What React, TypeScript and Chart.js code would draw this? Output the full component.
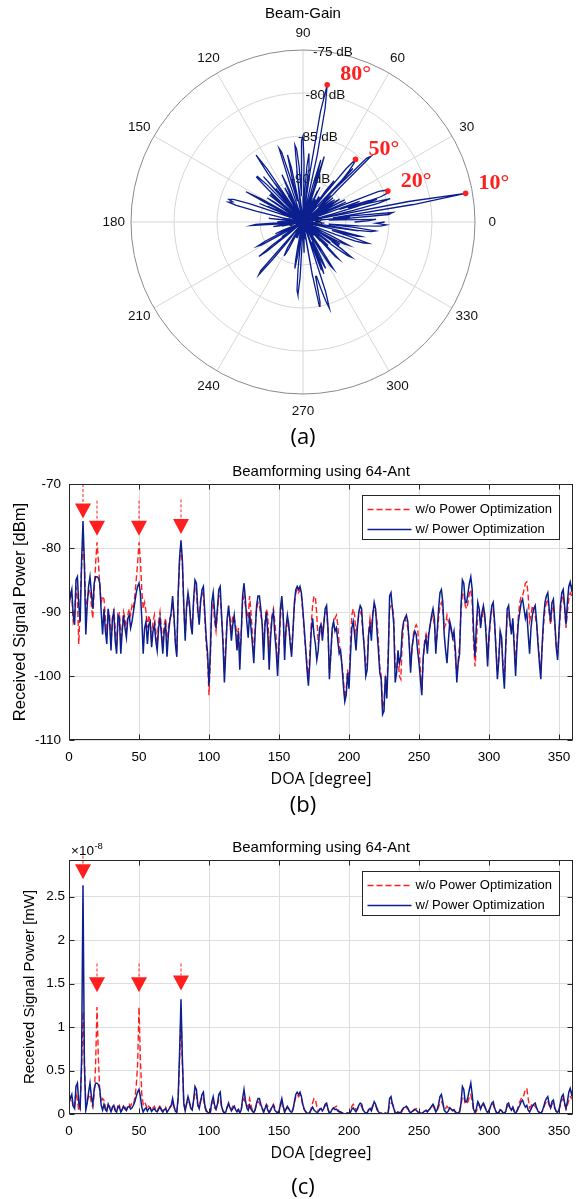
import React, { useEffect, useRef } from 'react';
import { Chart, registerables } from 'chart.js';

Chart.register(...registerables);

// ---------------- data ----------------
const DOA_DEG = Array.from({ length: 361 }, (_, i) => i);

// w/ Power Optimization (dBm), 1-degree steps 0..360
const BLUE_DBM = [
  -89.0, -87.5, -86.5, -90.5, -92.0, -85.0, -84.5, -89.0, -91.5, -82.0,
  -75.8, -82.5, -93.5, -89.0, -86.0, -84.5, -87.0, -89.5, -85.5, -84.5,
  -84.5, -84.7, -85.5, -90.0, -93.5, -89.5, -93.0, -95.0, -89.5, -91.5,
  -96.0, -91.0, -90.0, -94.5, -96.5, -90.5, -91.0, -96.5, -93.0, -90.5,
  -92.5, -94.0, -91.0, -90.5, -92.5, -91.5, -90.0, -88.5, -87.0, -86.0,
  -85.5, -87.0, -91.0, -96.5, -92.5, -91.5, -95.0, -92.0, -91.5, -95.5,
  -93.0, -92.0, -94.5, -96.0, -92.5, -91.0, -93.5, -96.5, -93.0, -92.0,
  -97.0, -93.5, -91.5, -90.0, -87.5, -90.5, -95.0, -97.0, -87.0, -81.5,
  -78.8, -82.0, -89.0, -94.5, -89.0, -87.0, -88.5, -92.0, -93.5, -88.0,
  -85.0, -85.5, -89.5, -92.0, -88.5, -86.5, -86.0, -90.0, -94.0, -96.5,
  -101.5, -96.0, -88.5, -87.0, -90.0, -92.5, -89.5, -86.5, -86.0, -90.5,
  -95.0, -101.0, -96.0, -91.0, -89.0, -91.5, -94.5, -92.0, -90.5, -93.0,
  -96.0, -93.0, -99.0, -93.5, -87.5, -85.5, -88.0, -91.5, -94.0, -90.0,
  -92.5, -95.0, -98.0, -93.0, -89.0, -87.5, -87.5, -89.5, -92.0, -97.5,
  -92.0, -90.0, -93.5, -99.0, -94.0, -91.0, -90.0, -93.5, -96.0, -100.0,
  -95.0, -89.5, -87.5, -90.5, -97.5, -92.5, -90.5, -92.0, -95.0, -97.0,
  -93.0, -88.5, -86.5, -86.0, -86.5, -86.0, -87.0, -89.5, -92.5, -95.5,
  -99.0, -101.5, -98.0, -93.0, -91.0, -93.5, -95.0, -97.5, -96.0, -92.5,
  -92.0, -94.5, -92.0, -89.5, -89.0, -92.5, -100.5, -96.5, -92.5, -91.5,
  -93.0, -92.5, -94.5, -96.5, -96.0, -98.5, -101.5, -104.0, -103.0, -99.5,
  -102.0, -97.0, -92.5, -91.5, -93.5, -96.0, -92.5, -90.0, -89.0, -89.5,
  -93.0, -96.0, -100.0, -99.0, -93.5, -92.0, -94.5, -90.5, -88.5, -89.5,
  -93.0, -96.0, -99.5, -100.5, -106.0, -105.5, -100.0, -103.5, -97.5, -87.5,
  -87.0, -89.5, -92.0, -101.0, -99.5, -96.0, -98.0, -97.0, -93.0, -91.5,
  -91.0, -90.5, -91.5, -95.0, -99.5, -95.5, -94.0, -93.0, -93.5, -96.0,
  -98.0, -100.5, -103.0, -97.0, -95.0, -94.0, -96.5, -93.5, -92.0, -90.5,
  -89.5, -91.0, -96.5, -93.0, -89.5, -87.0, -86.5, -88.5, -93.5, -96.0,
  -98.0, -94.5, -91.5, -92.5, -94.0, -93.0, -96.0, -101.0, -98.0, -96.5,
  -89.0, -85.0, -85.5, -88.5, -88.5, -87.0, -85.5, -84.5, -86.5, -93.0,
  -97.0, -92.0, -88.5, -89.5, -92.5, -90.0, -89.0, -90.5, -94.0, -98.5,
  -93.5, -91.0, -89.0, -88.5, -91.5, -96.0, -100.5, -97.5, -93.0, -94.0,
  -99.0, -102.0, -95.0, -89.5, -89.0, -91.5, -93.5, -91.0, -95.5, -100.0,
  -95.0, -91.5, -90.0, -88.5, -88.0, -89.5, -91.0, -90.0, -93.5, -96.5,
  -92.5, -90.5, -89.5, -89.0, -91.5, -95.0, -98.0, -100.5, -95.0, -91.0,
  -88.5, -87.5, -87.0, -89.5, -91.5, -88.5, -88.0, -91.5, -95.5, -97.5,
  -93.0, -89.0, -87.0, -86.5, -89.0, -92.0, -88.5, -86.0, -85.3, -86.5,
  -85.5,
];

// w/o Power Optimization (dBm), 1-degree steps 0..360
const RED_DBM = [
  -88.5, -87.0, -87.5, -91.5, -90.5, -86.0, -88.0, -95.0, -88.5, -83.0,
  -79.3, -82.0, -90.5, -88.0, -87.0, -86.5, -89.0, -91.0, -86.5, -82.5,
  -79.1, -82.0, -86.0, -88.5, -87.5, -88.0, -91.0, -93.5, -90.0, -90.5,
  -94.5, -92.0, -89.5, -92.5, -95.5, -91.5, -90.0, -94.5, -92.5, -90.0,
  -91.0, -93.0, -90.5, -89.5, -90.5, -89.0, -89.5, -87.5, -85.0, -82.5,
  -79.1, -82.0, -86.5, -89.5, -88.5, -90.0, -92.5, -90.5, -91.5, -94.5,
  -91.5, -90.5, -93.0, -95.0, -91.5, -90.0, -92.5, -95.0, -92.0, -91.0,
  -95.5, -92.5, -91.0, -90.5, -88.5, -91.0, -94.5, -96.5, -87.5, -82.0,
  -79.4, -82.5, -89.5, -93.5, -89.5, -88.0, -89.0, -91.0, -92.5, -88.5,
  -86.0, -86.5, -90.5, -91.0, -88.0, -87.0, -87.5, -91.0, -95.0, -97.5,
  -103.0, -97.0, -89.0, -88.5, -91.5, -93.0, -90.0, -87.5, -87.5, -91.0,
  -94.0, -99.5, -95.0, -91.0, -90.0, -91.0, -92.5, -90.5, -91.0, -92.0,
  -94.0, -92.5, -97.0, -93.5, -88.5, -87.5, -89.0, -90.0, -91.0, -87.5,
  -90.0, -93.5, -96.5, -92.5, -89.5, -88.5, -89.0, -90.5, -91.5, -95.5,
  -91.5, -89.5, -90.5, -96.0, -93.0, -90.5, -89.5, -91.5, -94.0, -98.5,
  -96.0, -91.0, -88.5, -90.5, -95.5, -93.0, -91.5, -92.5, -94.5, -96.0,
  -92.5, -89.0, -87.0, -86.5, -87.0, -86.5, -87.5, -90.0, -93.0, -96.0,
  -98.0, -100.5, -96.5, -92.0, -89.0, -87.5, -87.7, -90.5, -95.0, -93.5,
  -92.0, -93.0, -91.5, -90.0, -90.0, -93.0, -99.5, -97.0, -93.0, -91.5,
  -91.0, -90.5, -92.0, -95.0, -96.5, -98.0, -100.5, -103.5, -102.0, -99.0,
  -101.0, -95.5, -90.5, -89.5, -90.5, -93.5, -92.0, -90.5, -90.0, -90.5,
  -93.5, -95.5, -98.5, -98.0, -93.0, -91.0, -92.5, -90.0, -89.5, -90.0,
  -91.5, -94.5, -98.5, -100.0, -105.0, -104.0, -100.5, -102.0, -96.5, -89.5,
  -89.0, -89.0, -91.0, -98.5, -99.0, -96.5, -100.0, -100.5, -95.0, -92.0,
  -91.0, -91.5, -92.5, -94.5, -98.5, -96.0, -93.5, -92.5, -92.0, -92.5,
  -95.5, -99.0, -102.5, -97.5, -94.5, -93.5, -95.0, -93.0, -92.0, -91.0,
  -90.5, -92.0, -95.5, -93.5, -91.0, -89.0, -88.5, -89.5, -92.5, -92.0,
  -90.5, -91.5, -92.0, -93.0, -94.0, -94.5, -97.0, -100.0, -97.5, -95.0,
  -90.0, -87.0, -87.0, -89.0, -89.5, -88.5, -87.0, -86.5, -88.5, -95.0,
  -98.5, -95.5, -90.0, -90.0, -92.0, -91.0, -90.0, -91.0, -93.0, -97.5,
  -94.5, -91.5, -89.5, -89.5, -92.0, -95.5, -99.5, -97.0, -93.5, -94.5,
  -98.0, -100.5, -95.5, -90.5, -90.0, -92.0, -93.0, -91.5, -94.5, -98.5,
  -94.0, -90.5, -88.5, -87.5, -87.5, -86.5, -85.5, -85.3, -87.5, -91.5,
  -90.5, -89.0, -90.0, -90.5, -92.0, -94.5, -97.0, -99.0, -95.5, -92.0,
  -89.5, -88.5, -88.0, -90.0, -92.0, -89.5, -89.0, -92.0, -95.0, -96.5,
  -93.5, -90.0, -88.0, -87.5, -89.5, -92.5, -90.0, -88.0, -87.0, -87.4,
  -88.0,
];

const LEGEND_LABELS = ['w/o Power Optimization', 'w/ Power Optimization'];
const PEAK_DOA = [10, 20, 50, 80];
const PEAK_LABELS = ['10°', '20°', '50°', '80°'];
// arrow annotations (apex value and dashed stem start) for panels (b) and (c)
const ARROW_TIP_DBM = [-75.4, -78.1, -78.1, -77.8];
const ARROW_STEM_DBM = [-70, -72.6, -72.6, -72.4];
const ARROW_TIP_MW = [2.7, 1.4, 1.4, 1.42];
const ARROW_STEM_MW = [2.97, 1.73, 1.73, 1.73];

const X_TICKS = [0, 50, 100, 150, 200, 250, 300, 350];
const DBM_TICKS = [-110, -100, -90, -80, -70];
const MW_TICKS = [0, 0.5, 1, 1.5, 2, 2.5];
const POLAR_ANGLE_TICKS = [0, 30, 60, 90, 120, 150, 180, 210, 240, 270, 300, 330];
const POLAR_RING_DB = [-95, -90, -85, -80, -75];

// ---------------- styles ----------------
const SANS = '"Liberation Sans", Arial, Helvetica, sans-serif';
const OPEN = '"Open Sans", "Noto Sans", sans-serif';
const SERIF = '"Liberation Serif", "Times New Roman", serif';
const BLUE = '#0c1f8e';
const RED = '#ff1f1f';
const GRID = '#dedede';
const AXIS = '#262626';

Chart.defaults.font.family = SANS;
Chart.defaults.color = '#000';

const rad = (d: number) => (d * Math.PI) / 180;
const POLAR_MIN = POLAR_RING_DB[0];
const POLAR_MAX = POLAR_RING_DB[POLAR_RING_DB.length - 1];
const POLAR_SPAN = POLAR_MAX - POLAR_MIN;

// ---------------- polar chart ----------------
const polarPlugin = {
  id: 'polarDecor',
  beforeDatasetsDraw(chart: any) {
    const { ctx, scales } = chart;
    const cx = scales.x.getPixelForValue(0);
    const cy = scales.y.getPixelForValue(0);
    const R = scales.x.getPixelForValue(POLAR_SPAN) - cx;
    ctx.save();
    ctx.lineWidth = 1;
    ctx.strokeStyle = '#d6d6d6';
    POLAR_ANGLE_TICKS.forEach((t) => {
      ctx.beginPath();
      ctx.moveTo(cx, cy);
      ctx.lineTo(cx + R * Math.cos(rad(t)), cy - R * Math.sin(rad(t)));
      ctx.stroke();
    });
    POLAR_RING_DB.slice(1).forEach((db, i, arr) => {
      const r = ((db - POLAR_MIN) / POLAR_SPAN) * R;
      ctx.strokeStyle = i === arr.length - 1 ? '#8a8a8a' : '#d6d6d6';
      ctx.beginPath();
      ctx.arc(cx, cy, r, 0, Math.PI * 2);
      ctx.stroke();
    });
    ctx.fillStyle = '#111';
    ctx.font = `13.5px ${SANS}`;
    ctx.textAlign = 'center';
    ctx.textBaseline = 'middle';
    POLAR_ANGLE_TICKS.forEach((t) => {
      ctx.fillText(String(t), cx + 1.1 * R * Math.cos(rad(t)), cy - 1.1 * R * Math.sin(rad(t)));
    });
    POLAR_RING_DB.forEach((db) => {
      const r = ((db - POLAR_MIN) / POLAR_SPAN) * R;
      ctx.fillText(`${db} dB`, cx + r * Math.cos(rad(80)), cy - r * Math.sin(rad(80)));
    });
    ctx.restore();
  },
  afterDatasetsDraw(chart: any) {
    const { ctx, scales } = chart;
    ctx.save();
    PEAK_DOA.forEach((d, i) => {
      const r = BLUE_DBM[d] - POLAR_MIN;
      const px = scales.x.getPixelForValue(r * Math.cos(rad(d)));
      const py = scales.y.getPixelForValue(r * Math.sin(rad(d)));
      ctx.fillStyle = RED;
      ctx.beginPath();
      ctx.arc(px, py, 2.8, 0, Math.PI * 2);
      ctx.fill();
      ctx.font = `bold 22px ${SERIF}`;
      ctx.textAlign = 'left';
      ctx.textBaseline = 'middle';
      ctx.fillText(PEAK_LABELS[i], px + 13, py - 10);
    });
    ctx.restore();
  },
};

function polarConfig(): any {
  return {
    type: 'scatter',
    data: {
      datasets: [
        {
          label: 'Beam-Gain',
          data: DOA_DEG.map((d, i) => ({
            x: (BLUE_DBM[i] - POLAR_MIN) * Math.cos(rad(d)),
            y: (BLUE_DBM[i] - POLAR_MIN) * Math.sin(rad(d)),
          })),
          showLine: true,
          borderColor: BLUE,
          borderWidth: 1.3,
          pointRadius: 0,
          tension: 0,
        },
      ],
    },
    options: {
      responsive: false,
      animation: false,
      devicePixelRatio: 1,
      events: [],
      layout: { padding: { left: 131, right: 107, top: 0, bottom: 56 } },
      plugins: {
        legend: { display: false },
        tooltip: { enabled: false },
        title: {
          display: true,
          text: 'Beam-Gain',
          fullSize: false,
          color: '#000',
          font: { family: SANS, size: 15, weight: 'normal' },
          padding: { top: 5, bottom: 27 },
        },
      },
      scales: {
        x: { type: 'linear', min: -POLAR_SPAN, max: POLAR_SPAN, display: false },
        y: { type: 'linear', min: -POLAR_SPAN, max: POLAR_SPAN, display: false },
      },
    },
    plugins: [polarPlugin],
  };
}

// ---------------- line charts ----------------
function decorPlugin(tips: number[], stems: number[], showExp: boolean) {
  return {
    id: 'matlabDecor',
    afterDatasetsDraw(chart: any) {
      const { ctx, scales } = chart;
      ctx.save();
      PEAK_DOA.forEach((d, i) => {
        const px = scales.x.getPixelForValue(d);
        const tipY = scales.y.getPixelForValue(tips[i]);
        const baseY = tipY - 15;
        const stemY = scales.y.getPixelForValue(stems[i]);
        ctx.strokeStyle = RED;
        ctx.lineWidth = 1;
        ctx.setLineDash([3, 2]);
        ctx.beginPath();
        ctx.moveTo(px, stemY);
        ctx.lineTo(px, baseY);
        ctx.stroke();
        ctx.setLineDash([]);
        ctx.fillStyle = RED;
        ctx.beginPath();
        ctx.moveTo(px - 8, baseY);
        ctx.lineTo(px + 8, baseY);
        ctx.lineTo(px, tipY);
        ctx.closePath();
        ctx.fill();
      });
      ctx.restore();
    },
    afterDraw(chart: any) {
      const { ctx, chartArea: a, scales } = chart;
      ctx.save();
      const L = Math.round(a.left) + 0.5;
      const T = Math.round(a.top) + 0.5;
      const Rr = Math.round(a.right) - 0.5;
      const B = Math.round(a.bottom) - 0.5;
      ctx.strokeStyle = AXIS;
      ctx.lineWidth = 1;
      ctx.strokeRect(L, T, Rr - L, B - T);
      // inward tick marks
      ctx.beginPath();
      X_TICKS.forEach((v) => {
        const px = Math.round(scales.x.getPixelForValue(v)) + 0.5;
        ctx.moveTo(px, B);
        ctx.lineTo(px, B - 5);
        ctx.moveTo(px, T);
        ctx.lineTo(px, T + 5);
      });
      scales.y.ticks.forEach((t: any) => {
        const py = Math.round(scales.y.getPixelForValue(t.value)) + 0.5;
        ctx.moveTo(L, py);
        ctx.lineTo(L + 5, py);
        ctx.moveTo(Rr, py);
        ctx.lineTo(Rr - 5, py);
      });
      ctx.stroke();

      // legend
      const bw = 197;
      const bh = 44;
      const bx = Math.round(a.right - 14 - bw) + 0.5;
      const by = Math.round(a.top + 11) + 0.5;
      ctx.fillStyle = '#fff';
      ctx.fillRect(bx, by, bw, bh);
      ctx.strokeStyle = AXIS;
      ctx.strokeRect(bx, by, bw, bh);
      chart.data.datasets.forEach((ds: any, i: number) => {
        const y = by + 14 + i * 20;
        ctx.strokeStyle = ds.borderColor;
        ctx.lineWidth = ds.borderWidth;
        ctx.setLineDash(ds.borderDash || []);
        ctx.beginPath();
        ctx.moveTo(bx + 5, y);
        ctx.lineTo(bx + 49, y);
        ctx.stroke();
        ctx.setLineDash([]);
        ctx.fillStyle = '#000';
        ctx.font = `13px ${SANS}`;
        ctx.textAlign = 'left';
        ctx.textBaseline = 'middle';
        ctx.fillText(ds.label, bx + 53, y);
      });

      if (showExp) {
        ctx.fillStyle = '#000';
        ctx.textAlign = 'left';
        ctx.textBaseline = 'alphabetic';
        ctx.font = `13.5px ${SANS}`;
        const base = '×10';
        ctx.fillText(base, a.left + 2, a.top - 5);
        const w = ctx.measureText(base).width;
        ctx.font = `9.5px ${SANS}`;
        ctx.fillText('-8', a.left + 2 + w + 0.5, a.top - 11);
      }
      ctx.restore();
    },
  };
}

function lineConfig(kind: 'b' | 'c'): any {
  const isB = kind === 'b';
  // panel (c) shows the same powers in units of 1e-8 mW
  const conv = (v: number) => (isB ? v : Math.pow(10, (v + 80) / 10));
  const yTicks = isB ? DBM_TICKS : MW_TICKS;
  return {
    type: 'line',
    data: {
      datasets: [
        {
          label: LEGEND_LABELS[0],
          data: DOA_DEG.map((d, i) => ({ x: d, y: conv(RED_DBM[i]) })),
          borderColor: RED,
          borderWidth: 1.4,
          borderDash: [6, 3],
          pointRadius: 0,
          tension: 0,
          order: 1,
        },
        {
          label: LEGEND_LABELS[1],
          data: DOA_DEG.map((d, i) => ({ x: d, y: conv(BLUE_DBM[i]) })),
          borderColor: BLUE,
          borderWidth: 1.5,
          pointRadius: 0,
          tension: 0,
          order: 0,
        },
      ],
    },
    options: {
      responsive: false,
      animation: false,
      devicePixelRatio: 1,
      events: [],
      layout: { padding: { left: 0, right: 9, top: 0, bottom: 0 } },
      plugins: {
        legend: { display: false },
        tooltip: { enabled: false },
        title: {
          display: true,
          text: 'Beamforming using 64-Ant',
          fullSize: false,
          color: '#000',
          font: { family: SANS, size: 15, weight: 'normal' },
          padding: { top: isB ? 7.7 : 8.7, bottom: 3.3 },
        },
      },
      scales: {
        x: {
          type: 'linear',
          min: 0,
          max: 360,
          afterBuildTicks: (s: any) => {
            s.ticks = X_TICKS.map((v) => ({ value: v }));
          },
          afterFit: (s: any) => {
            s.height = 60;
          },
          grid: { color: GRID, drawTicks: false },
          border: { display: false },
          ticks: {
            padding: 9,
            autoSkip: false,
            maxRotation: 0,
            color: '#000',
            font: { family: SANS, size: 13.5 },
            callback: (v: any) => String(v),
          },
          title: {
            display: true,
            text: 'DOA [degree]',
            color: '#000',
            font: { family: OPEN, size: 16 },
            padding: { top: 0, bottom: 11.4 },
          },
        },
        y: {
          type: 'linear',
          min: isB ? -110 : 0,
          max: isB ? -70 : 2.92,
          afterBuildTicks: (s: any) => {
            s.ticks = yTicks.map((v) => ({ value: v }));
          },
          afterFit: (s: any) => {
            s.width = 69;
          },
          grid: { color: GRID, drawTicks: false },
          border: { display: false },
          ticks: {
            padding: isB ? 8 : 4,
            color: '#000',
            font: { family: SANS, size: 13.5 },
            callback: (v: any) => String(v),
          },
          title: {
            display: true,
            text: isB ? 'Received Signal Power [dBm]' : 'Received Signal Power [mW]',
            color: '#000',
            font: { family: SANS, size: isB ? 16.5 : 15 },
            padding: { top: isB ? 10.6 : 21, bottom: 0 },
          },
        },
      },
    },
    plugins: [decorPlugin(isB ? ARROW_TIP_DBM : ARROW_TIP_MW, isB ? ARROW_STEM_DBM : ARROW_STEM_MW, !isB)],
  };
}

const panelLabel = (top: number): React.CSSProperties => ({
  position: 'absolute',
  left: 303,
  top,
  transform: 'translate(-50%, -50%)',
  fontFamily: OPEN,
  fontSize: 22,
  lineHeight: 1,
  color: '#000',
  whiteSpace: 'nowrap',
});

export default function App() {
  const aRef = useRef<HTMLCanvasElement>(null);
  const bRef = useRef<HTMLCanvasElement>(null);
  const cRef = useRef<HTMLCanvasElement>(null);

  useEffect(() => {
    const charts = [
      new Chart(aRef.current as HTMLCanvasElement, polarConfig()),
      new Chart(bRef.current as HTMLCanvasElement, lineConfig('b')),
      new Chart(cRef.current as HTMLCanvasElement, lineConfig('c')),
    ];
    return () => charts.forEach((c) => c.destroy());
  }, []);

  return (
    <div style={{ position: 'absolute', left: 0, top: 0, width: 582, height: 1199, background: '#fff', overflow: 'hidden' }}>
      <canvas ref={aRef} width={582} height={450} style={{ position: 'absolute', left: 0, top: 0, width: 582, height: 450 }} />
      <div style={panelLabel(435)}>(a)</div>
      <canvas ref={bRef} width={582} height={345} style={{ position: 'absolute', left: 0, top: 455, width: 582, height: 345 }} />
      <div style={panelLabel(803)}>(b)</div>
      <canvas ref={cRef} width={582} height={344} style={{ position: 'absolute', left: 0, top: 830, width: 582, height: 344 }} />
      <div style={panelLabel(1185)}>(c)</div>
    </div>
  );
}
